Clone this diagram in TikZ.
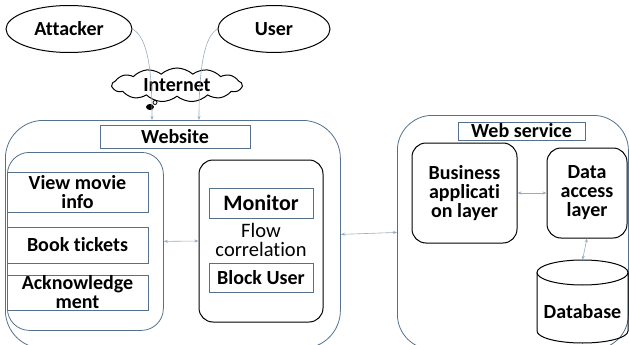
\documentclass[tikz,border=0pt]{standalone}
\usepackage{fontspec}
\setmainfont{Carlito}[Ligatures=NoCommon]
\usetikzlibrary{shapes.geometric,shapes.symbols,arrows.meta}

\definecolor{frameblue}{RGB}{84,112,140}
\definecolor{linkblue}{RGB}{150,172,196}

\tikzset{
  actor/.style={draw, ellipse, line width=1pt, minimum width=126pt, minimum height=47pt, inner sep=0pt},
  panel/.style={draw=frameblue, rounded corners=#1, line width=0.8pt, inner sep=0pt},
  panel/.default=30pt,
  tier/.style={draw, rounded corners=14pt, line width=1pt, inner sep=0pt, align=center},
  tag/.style={draw=frameblue, line width=0.9pt, inner sep=0pt, align=center},
  link/.style={linkblue, line width=0.6pt, -{Stealth[length=4pt,width=3pt]}},
  dlink/.style={linkblue, line width=0.6pt, {Stealth[length=4pt,width=3pt]}-{Stealth[length=4pt,width=3pt]}},
}

\begin{document}
\begin{tikzpicture}[x=1pt, y=-1pt, font=\bfseries\fontsize{20}{19}\selectfont]
  %%%%% START %%%%%
  \useasboundingbox (0,0) rectangle (629,345);
  \clip (0,0) rectangle (629,345);

  % clients and the cloud
  \node[actor] (attacker) at (69,29) {Attacker};
  \node[actor, minimum width=112pt] (user) at (274,29) {User};
  \node[draw, cloud, cloud puffs=13, cloud puff arc=85, aspect=4, line width=1pt,
        minimum width=130pt, minimum height=34pt, inner sep=0pt] (internet) at (177,85) {Internet};
  \draw[line width=0.8pt, fill=black] (150,107) ellipse (3.5pt and 2.6pt);
  \draw[line width=0.8pt] (155,102.5) circle (2pt);

  % website side
  \node[panel=38pt, minimum width=335pt, minimum height=228pt, anchor=north west] (website) at (5,120) {};
  \node[tag, minimum width=150pt, minimum height=23pt] (weblabel) at (175,136.5) {Website};
  \node[panel=22pt, minimum width=156pt, minimum height=178pt, anchor=north west] (pages) at (7,152) {};
  \node[tag, minimum width=141pt, minimum height=40pt] (movieinfo) at (77.5,192) {View movie\\info};
  \node[tag, minimum width=141pt, minimum height=36pt] (tickets) at (77.5,245) {Book tickets};
  \node[tag, minimum width=141pt, minimum height=35pt] (ack) at (77.5,292.5) {Acknowledge\\ment};

  \node[tier, minimum width=124pt, minimum height=162pt] (guard) at (261,241) {};
  \node[tag, minimum width=104pt, minimum height=30pt, font=\bfseries\fontsize{22}{24}\selectfont] (monitor) at (261,203) {Monitor};
  \node[align=center, inner sep=0pt, font=\mdseries\fontsize{20.5}{19}\selectfont] (flow) at (261,240) {Flow\\correlation};
  \node[tag, minimum width=104pt, minimum height=29pt] (block) at (261,277.5) {Block User};

  % web service side
  \node[panel=35pt, minimum width=231pt, minimum height=234pt, anchor=north west] (service) at (397,115) {};
  \node[tag, minimum width=127pt, minimum height=18pt] (servlabel) at (521.5,131) {Web service};
  \node[tier, minimum width=105pt, minimum height=100pt] (business) at (464.5,193) {Business\\applicati\\on layer};
  \node[tier, minimum width=80pt, minimum height=90pt] (dataaccess) at (587,193) {Data\\access\\layer};

  % database drum
  \node[minimum width=91pt, minimum height=84pt, inner sep=0pt] (db) at (582.5,302) {};
  \node (dblabel) at (582.5,312) {Database};
  \draw[line width=1pt] (582.5,272.5) ellipse (45.5 and 12.5);
  \draw[line width=1pt] (537,272.5) -- (537,331)
    arc[start angle=180, end angle=0, x radius=45.5, y radius=12] -- (628,272.5);

  % connectors
  \coordinate (atkin) at (152,120);
  \coordinate (usrin) at (199,120);
  \draw[link] (attacker.east) .. controls (148,38) and (152,70) .. (atkin);
  \draw[link] (user.west) .. controls (204,36) and (199,70) .. (usrin);
  \draw[dlink] (pages.east) -- (guard.west);
  \draw[dlink] (website.east) -- (service.west);
  \draw[dlink] (business.east) -- (dataaccess.west);
  \draw[dlink] (dataaccess.south) -- (db.north);
  %%%%% END %%%%%
\end{tikzpicture}
\end{document}
